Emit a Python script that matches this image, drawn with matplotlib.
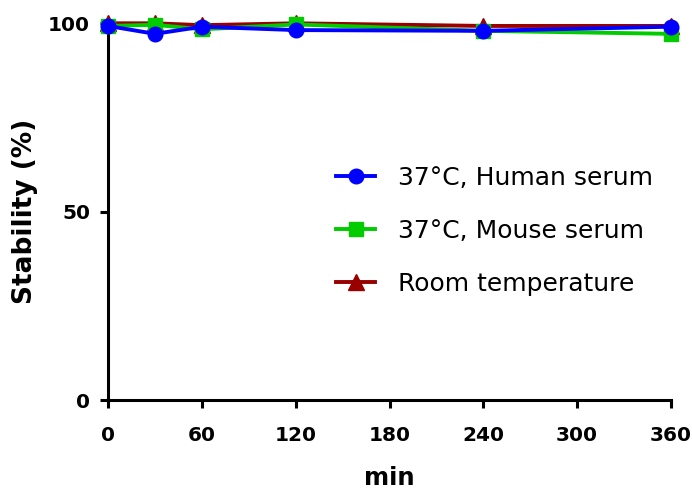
import matplotlib
matplotlib.use("Agg")
import matplotlib.pyplot as plt

time_min = [0, 30, 60, 120, 240, 360]
human_serum = [99.3, 97.2, 99.1, 98.2, 98.0, 99.1]
mouse_serum = [99.3, 99.6, 98.4, 99.7, 98.0, 97.2]
room_temp = [100.0, 100.0, 99.5, 100.0, 99.3, 99.3]

labels = ["37°C, Human serum", "37°C, Mouse serum", "Room temperature"]
colors = ["#0000FF", "#00CC00", "#990000"]
x_ticks = [0, 60, 120, 180, 240, 300, 360]
y_ticks = [0, 50, 100]

plt.rcParams['font.family'] = ['DejaVu Sans']

W, H = 692, 493
fig = plt.figure(figsize=(W / 100, H / 100), dpi=100)
ax = fig.add_axes([108 / W, 1 - 400 / H, (671 - 108) / W, (400 - 23.3) / H])

h3, = ax.plot(time_min, room_temp, color=colors[2], marker='^', markersize=11,
              linewidth=2.8, clip_on=False, zorder=3)
h2, = ax.plot(time_min, mouse_serum, color=colors[1], marker='s', markersize=10.5,
              linewidth=2.8, clip_on=False, zorder=4)
h1, = ax.plot(time_min, human_serum, color=colors[0], marker='o', markersize=10.5,
              linewidth=2.8, clip_on=False, zorder=5)

ax.set_xlim(0, 360)
ax.set_ylim(0, 100)
ax.set_xticks(x_ticks)
ax.set_yticks(y_ticks)
ax.spines['top'].set_visible(False)
ax.spines['right'].set_visible(False)
for s in ['left', 'bottom']:
    ax.spines[s].set_linewidth(2.2)
ax.tick_params(axis='both', direction='out', length=6, width=2.2, labelsize=14.5)
ax.tick_params(axis='x', pad=12.5)
ax.tick_params(axis='y', pad=7)
for lab in ax.get_xticklabels() + ax.get_yticklabels():
    lab.set_fontweight('bold')

ax.set_xlabel("min", fontsize=17.5, fontweight='bold', labelpad=15)
ax.set_ylabel("Stability (%)", fontsize=19, fontweight='bold', labelpad=7)

leg = fig.legend([h1, h2, h3], labels, loc='upper left',
                 bbox_to_anchor=(336 / W, 1 - 166 / H), bbox_transform=fig.transFigure,
                 frameon=False, fontsize=18, handlelength=1.56, handletextpad=0.92,
                 labelspacing=1.15, borderpad=0, borderaxespad=0)

fig.savefig("out.png", dpi=100)
